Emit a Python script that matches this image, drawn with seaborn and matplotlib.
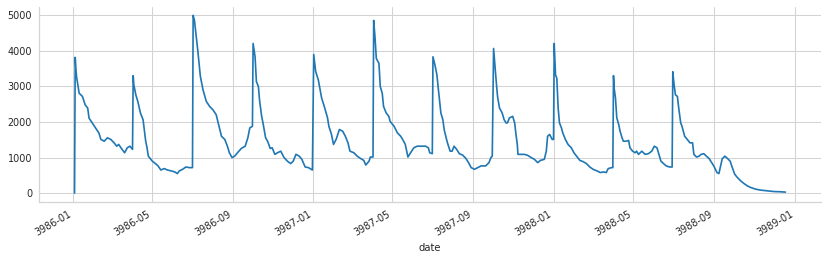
import numpy as np
import pandas as pd
import matplotlib
matplotlib.use("Agg")
import matplotlib.pyplot as plt
import seaborn as sns

# ---- data ----
days_3986 = ["01-04", "01-05", "01-06", "01-07", "01-11", "01-16", "01-20", "01-24", "01-26", "01-31",
             "02-05", "02-10", "02-13", "02-18", "02-23", "02-28", "03-05", "03-09", "03-12", "03-16",
             "03-21", "03-25", "03-29", "04-02", "04-03", "04-04", "04-07", "04-10", "04-14", "04-18",
             "04-22", "04-24", "04-26", "05-02", "05-05", "05-10", "05-15", "05-20", "05-25", "05-31",
             "06-05", "06-09", "06-12", "06-17", "06-22", "06-27", "07-02", "07-03", "07-05", "07-08",
             "07-10", "07-14", "07-18", "07-23", "07-28", "08-02", "08-07", "08-10", "08-15", "08-20",
             "08-24", "08-27", "08-31", "09-04", "09-09", "09-14", "09-20", "09-24", "09-27", "10-01",
             "10-02", "10-05", "10-07", "10-10", "10-12", "10-15", "10-17", "10-21", "10-24", "10-28",
             "10-31", "11-04", "11-08", "11-13", "11-18", "11-23", "11-28", "12-02", "12-06", "12-11",
             "12-15", "12-20", "12-25", "12-31"]
vals_3986 = [0, 3820, 3510, 3280, 2810, 2720, 2490, 2390, 2110, 1970,
             1830, 1690, 1510, 1460, 1555, 1510, 1415, 1320, 1370, 1260,
             1135, 1275, 1320, 1230, 3305, 3045, 2765, 2580, 2255, 2065,
             1460, 1275, 1040, 900, 857, 782, 650, 690, 650, 624,
             596, 550, 624, 670, 735, 717, 717, 5000, 4860, 4350,
             4020, 3280, 2905, 2580, 2440, 2345, 2205, 1975, 1600, 1510,
             1320, 1135, 1000, 1040, 1150, 1255, 1320, 1555, 1835, 1880,
             4210, 3835, 3140, 3000, 2580, 2160, 1975, 1555, 1460, 1255,
             1275, 1090, 1135, 1180, 1000, 900, 830, 900, 1090, 1040,
             950, 735, 717, 650]

days_3987 = ["01-02", "01-05", "01-09", "01-14", "01-18", "01-23", "01-25", "01-29", "02-01", "02-05",
             "02-10", "02-15", "02-19", "02-23", "02-26", "03-04", "03-09", "03-14", "03-19", "03-22",
             "03-27", "03-29", "04-02", "04-03", "04-05", "04-07", "04-11", "04-13", "04-16", "04-18",
             "04-22", "04-26", "04-28", "05-04", "05-09", "05-14", "05-17", "05-21", "05-25", "05-29",
             "06-03", "06-08", "06-16", "06-21", "06-25", "06-27", "07-01", "07-02", "07-05", "07-08",
             "07-10", "07-14", "07-17", "07-19", "07-22", "07-24", "07-28", "07-31", "08-03", "08-07",
             "08-11", "08-16", "08-21", "08-25", "08-29", "09-03", "09-08", "09-13", "09-20", "09-25",
             "09-28", "09-30", "10-02", "10-04", "10-06", "10-08", "10-11", "10-15", "10-18", "10-21",
             "10-23", "10-26", "10-31", "11-03", "11-05", "11-07", "11-08", "11-13", "11-18", "11-23",
             "11-28", "12-03", "12-08", "12-12", "12-18", "12-21", "12-23", "12-26", "12-30"]
vals_3987 = [3900, 3420, 3185, 2675, 2440, 2115, 1880, 1650, 1370, 1510,
             1790, 1740, 1600, 1415, 1180, 1135, 1040, 975, 920, 790,
             900, 1015, 1015, 4860, 4395, 3790, 3650, 3000, 2810, 2440,
             2255, 2160, 2020, 1880, 1695, 1600, 1510, 1370, 1015, 1135,
             1275, 1320, 1320, 1320, 1275, 1135, 1110, 3835, 3605, 3325,
             2955, 2255, 2065, 1790, 1555, 1415, 1180, 1180, 1320, 1230,
             1110, 1070, 975, 857, 717, 670, 717, 765, 765, 857,
             1000, 1040, 4070, 3605, 3140, 2720, 2395, 2255, 2065, 1975,
             1975, 2115, 2160, 1975, 1650, 1370, 1090, 1090, 1090, 1060,
             1000, 950, 857, 920, 950, 1180, 1600, 1650, 1510]

days_3988 = ["01-01", "01-02", "01-04", "01-06", "01-08", "01-10", "01-13", "01-15", "01-19", "01-23",
             "01-28", "02-01", "02-05", "02-10", "02-15", "02-20", "02-25", "03-01", "03-07", "03-12",
             "03-17", "03-21", "03-24", "03-29", "03-31", "04-01", "04-02", "04-04", "04-06", "04-09",
             "04-11", "04-14", "04-16", "04-20", "04-24", "04-26", "04-30", "05-04", "05-06", "05-09",
             "05-14", "05-19", "05-24", "05-29", "06-02", "06-06", "06-09", "06-12", "06-16", "06-20",
             "06-25", "06-29", "06-30", "07-02", "07-04", "07-07", "07-09", "07-12", "07-14", "07-18",
             "07-22", "07-26", "07-30", "08-01", "08-05", "08-09", "08-12", "08-16", "08-20", "08-24",
             "08-29", "09-01", "09-05", "09-08", "09-10", "09-13", "09-17", "09-21", "09-25", "09-28",
             "10-02", "10-06", "10-11", "10-16", "10-21", "10-26", "11-03", "11-10", "11-20", "11-30",
             "12-11", "12-18"]
vals_3988 = [1510, 4210, 3325, 3230, 2395, 1975, 1835, 1695, 1510, 1370,
             1275, 1135, 1040, 920, 885, 830, 735, 670, 624, 578,
             596, 578, 690, 717, 717, 3305, 2955, 2675, 2115, 1925,
             1740, 1555, 1460, 1460, 1480, 1275, 1180, 1135, 1180, 1090,
             1180, 1090, 1110, 1180, 1320, 1275, 1090, 900, 830, 765,
             735, 735, 3415, 3045, 2765, 2720, 2395, 1975, 1880, 1600,
             1510, 1415, 1415, 1090, 1015, 1040, 1090, 1110, 1040, 975,
             830, 735, 578, 550, 717, 965, 1040, 975, 900, 735,
             530, 440, 345, 270, 205, 160, 110, 85, 65, 45,
             37, 28]

dates = np.array(
    [f"3986-{d}" for d in days_3986]
    + [f"3987-{d}" for d in days_3987]
    + [f"3988-{d}" for d in days_3988],
    dtype="datetime64[s]",
)
values = vals_3986 + vals_3987 + vals_3988

df = pd.DataFrame({"date": pd.Series(dates), "value": values})

# ---- plot ----
sns.set_theme(style="whitegrid")
plt.rcParams["font.family"] = ["DejaVu Sans"]

W, H, DPI = 827, 260, 100
fig = plt.figure(figsize=(W / DPI, H / DPI), dpi=DPI)
ax = fig.add_axes([39 / W, 1 - 202 / H, (821 - 39) / W, (202 - 6.5) / H])

sns.lineplot(data=df, x="date", y="value", ax=ax, color="#1f77b4",
             linewidth=1.2)

sns.despine(ax=ax)
ax.set_ylabel("")
ax.set_xlabel("date", fontsize=7.2, color="#262626")
ax.grid(True, color="#d3d3d3", linewidth=0.75)
for s in ("left", "bottom"):
    ax.spines[s].set_color("#d3d3d3")
    ax.spines[s].set_linewidth(0.9)
ax.tick_params(axis="both", labelsize=6.9, colors="#262626", length=0, pad=5)
ax.set_yticks([0, 1000, 2000, 3000, 4000, 5000])
plt.setp(ax.get_xticklabels(), rotation=30, ha="right")

fig.savefig("out.png", dpi=DPI)
